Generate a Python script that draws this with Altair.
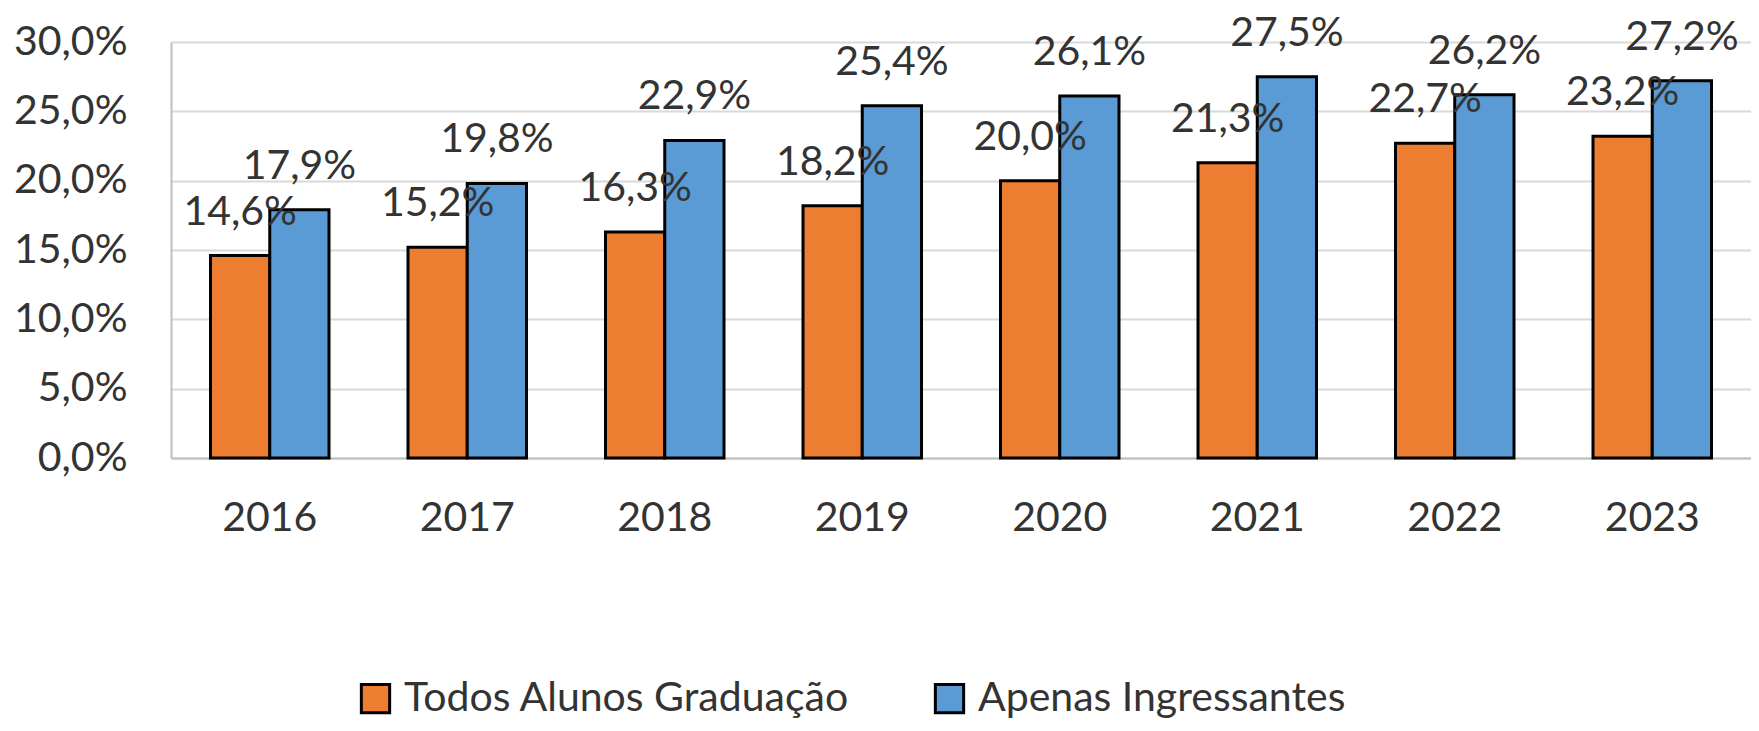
import altair as alt
import pandas as pd

years = ["2016", "2017", "2018", "2019", "2020", "2021", "2022", "2023"]
series_names = ["Todos Alunos Graduação", "Apenas Ingressantes"]
todos = [14.6, 15.2, 16.3, 18.2, 20.0, 21.3, 22.7, 23.2]
apenas = [17.9, 19.8, 22.9, 25.4, 26.1, 27.5, 26.2, 27.2]
colors = ["#ED7D31", "#5B9BD5"]
y_ticks = [0, 5, 10, 15, 20, 25, 30]

rows = []
for name, vals in zip(series_names, [todos, apenas]):
    for yr, v in zip(years, vals):
        rows.append({"Ano": yr, "Serie": name, "Valor": v,
                     "Rotulo": f"{v:.1f}%".replace(".", ",")})
df = pd.DataFrame(rows)

FONT = "Lato"
FS = 41
TXT = "#333333"

x_enc = alt.X("Ano:N", sort=years,
              scale=alt.Scale(paddingInner=0.4, paddingOuter=0.2),
              axis=alt.Axis(title=None, labelAngle=0, labelFont=FONT, labelFontSize=FS,
                            labelColor=TXT, labelPadding=40, ticks=False,
                            domainColor="#BFBFBF", domainWidth=2, grid=False))
y_enc = alt.Y("Valor:Q", scale=alt.Scale(domain=[0, 30], nice=False),
              axis=alt.Axis(title=None, values=y_ticks,
                            labelExpr="replace(format(datum.value, '.1f'), '.', ',') + '%'",
                            labelFont=FONT, labelFontSize=FS, labelColor=TXT,
                            labelPadding=44, ticks=False, domainColor="#BFBFBF",
                            domainWidth=2, gridColor="#D9D9D9", gridWidth=2))
xo = alt.XOffset("Serie:N", sort=series_names, scale=alt.Scale(paddingInner=0, paddingOuter=0))

bars = alt.Chart(df).mark_bar(stroke="black", strokeWidth=3).encode(
    x=x_enc, y=y_enc, xOffset=xo,
    color=alt.Color("Serie:N", sort=series_names,
                    scale=alt.Scale(domain=series_names, range=colors),
                    legend=alt.Legend(title=None, orient="none", direction="horizontal",
                                      legendX=184, legendY=636, symbolType="square",
                                      symbolSize=800, symbolStrokeColor="black",
                                      symbolStrokeWidth=3, symbolOpacity=1,
                                      labelFont=FONT, labelFontSize=FS, labelColor=TXT,
                                      labelOffset=8, columnPadding=79, padding=0,
                                      labelLimit=1000)),
)

labels = alt.Chart(df).mark_text(font=FONT, fontSize=FS, color=TXT, align="center",
                                 baseline="alphabetic", dy=-31).encode(
    x=alt.X("Ano:N", sort=years), y="Valor:Q", xOffset=xo, text="Rotulo:N")

chart = alt.layer(bars, labels).properties(
    width=1580, height=416,
    autosize=alt.AutoSizeParams(type="none"),
    padding={"left": 163, "top": 34, "right": 0, "bottom": 264},
).configure_view(stroke=None).configure(background="white")

chart.save("out.html", embed_options={"renderer": "svg", "actions": False})
